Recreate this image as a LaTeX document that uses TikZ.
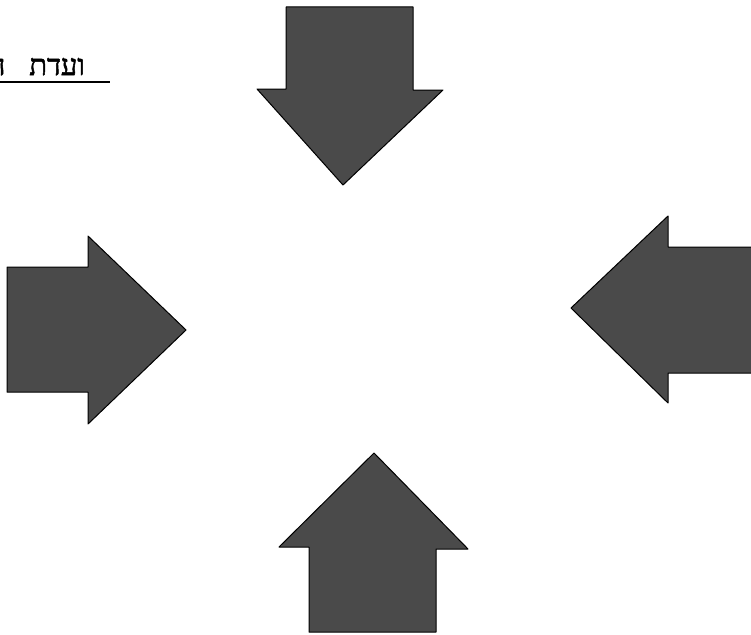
\documentclass[tikz,border=0pt]{standalone}
\usepackage{fontspec}
\TeXXeTstate=1
\newfontfamily\hebfont[Script=Hebrew,FakeBold=1.8]{Liberation Serif}
\definecolor{arrowfill}{RGB}{74,74,74}
\tikzset{
  bigarrow/.style={fill=arrowfill, draw=black, line width=1pt, line join=round},
  heading/.style={inner sep=0pt, font=\hebfont\fontsize{29}{32}\selectfont}
}
\begin{document}
\begin{tikzpicture}[x=1pt,y=-1pt]
\useasboundingbox (0,0) rectangle (751,634);
\clip (0,0) rectangle (751,634);
% heading (cut off at the left edge, as in the reference)
\node[heading, anchor=base east] (title) at (85,75) {\beginR ועדת\hskip 24pt ה\endR};
\draw[line width=1.1pt] (0,82) coordinate (ulA) -- (110,82) coordinate (ulB);
% top arrow (pointing down)
\draw[bigarrow] (286,7) -- (413,7) -- (413,90) -- (443,90) -- (343,185) -- (257,89) -- (286,89) -- cycle;
% left arrow (pointing right)
\draw[bigarrow] (7,267) -- (88,267) -- (88,236) -- (186,330) -- (88,424) -- (88,392) -- (7,392) -- cycle;
% right arrow (pointing left)
\draw[bigarrow] (760,247) -- (668,247) -- (668,216) -- (571,308) -- (668,403) -- (668,373) -- (760,373);
% bottom arrow (pointing up)
\draw[bigarrow] (309,632) -- (309,547) -- (279,547) -- (374,453) -- (468,549) -- (436,549) -- (436,632) -- cycle;
\end{tikzpicture}
\end{document}
